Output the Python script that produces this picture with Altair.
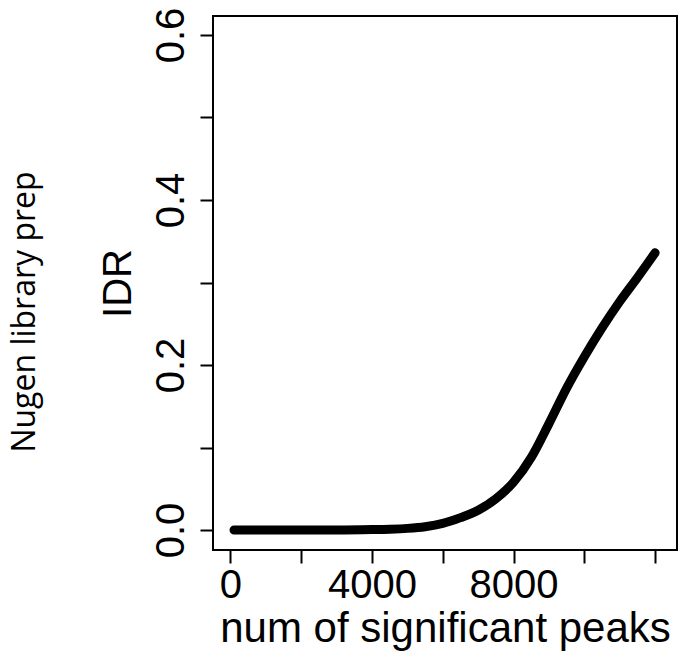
import altair as alt
import pandas as pd

# data
peaks = [100, 1000, 2000, 3000, 4000, 4500, 5000, 5500, 6000, 6500, 7000, 7500,
         8000, 8500, 9000, 9500, 10000, 10500, 11000, 11500, 12000]
idr = [0.0, 0.0, 0.0, 0.0, 0.0005, 0.001, 0.002, 0.004, 0.008, 0.015, 0.024, 0.038,
       0.058, 0.088, 0.129, 0.172, 0.210, 0.245, 0.277, 0.306, 0.336]
x_ticks = [0, 2000, 4000, 6000, 8000, 10000, 12000]
y_ticks = [0.0, 0.1, 0.2, 0.3, 0.4, 0.5, 0.6]
x_title = "num of significant peaks"
y_title = "IDR"
side_label = ["Nugen library prep"]

df = pd.DataFrame({"peaks": peaks, "idr": idr})
lab = pd.DataFrame({"t": side_label})

FONT = "Liberation Sans"

line = alt.Chart(df).mark_line(
    color="black", strokeWidth=9, strokeCap="round", interpolate="monotone"
).encode(
    x=alt.X("peaks:Q", scale=alt.Scale(domain=[-494, 12618], nice=False, zero=False),
            axis=alt.Axis(values=x_ticks, title=x_title,
                          labelExpr="datum.value == 0 || datum.value == 4000 || datum.value == 8000 ? format(datum.value, 'd') : ''",
                          labelBaseline="alphabetic", labelPadding=34,
                          titleBaseline="alphabetic", titleY=91, titleAlign="center",
                          titleFontSize=42)),
    y=alt.Y("idr:Q", scale=alt.Scale(domain=[-0.0242, 0.623], nice=False, zero=False),
            axis=alt.Axis(values=y_ticks, title=y_title,
                          labelExpr="round(datum.value*10) % 2 == 0 ? format(datum.value, '.1f') : ''",
                          labelAngle=-90, labelAlign="center", labelBaseline="alphabetic",
                          labelPadding=17,
                          titleAngle=270, titleBaseline="alphabetic", titleAlign="center",
                          titleX=-83, titleY=267, titleFontSize=40)),
)

side = alt.Chart(lab).mark_text(
    angle=270, align="center", baseline="alphabetic", font="Open Sans",
    fontSize=32, color="black"
).encode(x=alt.value(-178), y=alt.value(296), text="t:N")

chart = alt.layer(line, side).properties(
    width=464, height=534,
    background="white",
    autosize=alt.AutoSizeParams(type="none"),
    padding={"left": 213, "top": 16, "right": 2, "bottom": 104},
).configure_view(
    stroke="black", strokeWidth=2
).configure_axis(
    domain=False, grid=False, ticks=True, tickSize=13, tickWidth=2, tickColor="black",
    labelFont=FONT, labelFontSize=40, labelColor="black",
    titleFont=FONT, titleColor="black", titleFontWeight="normal",
    labelOverlap=False, labelBound=False, labelFlush=False
)

chart.save("out.html", embed_options={"renderer": "svg", "actions": False})
